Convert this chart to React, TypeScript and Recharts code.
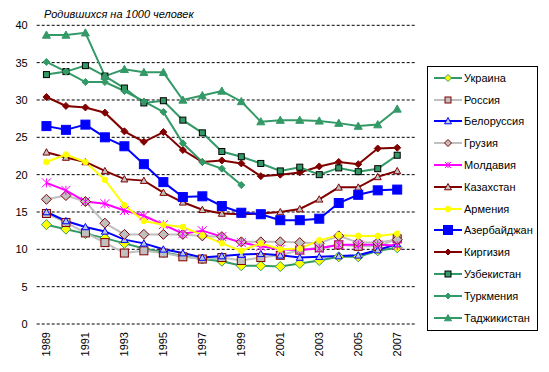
import React from 'react';
import { LineChart, Line, XAxis, YAxis, CartesianGrid, Legend } from 'recharts';

const years = [1989, 1990, 1991, 1992, 1993, 1994, 1995, 1996, 1997, 1998, 1999, 2000, 2001, 2002, 2003, 2004, 2005, 2006, 2007];
const xTicks = [1989, 1991, 1993, 1995, 1997, 1999, 2001, 2003, 2005, 2007];
const yTicks = [0, 5, 10, 15, 20, 25, 30, 35, 40];

const ukraine = [13.3, 12.7, 12.1, 11.5, 10.8, 10.1, 9.6, 9.1, 8.7, 8.4, 7.8, 7.8, 7.7, 8.1, 8.5, 9.0, 9.0, 9.8, 10.2];
const russia = [14.8, 13.6, 12.2, 10.9, 9.5, 9.8, 9.5, 9.0, 8.7, 8.9, 8.5, 8.9, 9.2, 9.9, 10.2, 10.6, 10.4, 10.4, 11.4];
const belarus = [15.0, 13.8, 13.0, 12.4, 11.3, 10.8, 10.0, 9.5, 8.9, 9.1, 9.3, 9.4, 9.2, 8.9, 9.0, 9.1, 9.2, 9.9, 10.7];
const georgia = [16.7, 17.2, 16.4, 13.5, 12.0, 12.0, 12.0, 12.0, 11.8, 11.7, 11.0, 11.0, 11.0, 10.9, 10.8, 11.8, 10.9, 10.9, 11.3];
const moldova = [18.9, 17.9, 16.4, 16.1, 15.2, 14.5, 13.3, 12.1, 12.5, 11.7, 10.9, 10.4, 10.0, 9.9, 10.1, 10.6, 10.6, 10.6, 10.5];
const kazakhstan = [23.0, 22.3, 21.7, 20.5, 19.4, 19.2, 17.6, 16.3, 15.3, 14.8, 14.7, 14.8, 15.0, 15.4, 16.7, 18.3, 18.3, 19.7, 20.5];
const armenia = [21.7, 22.7, 21.7, 19.3, 15.9, 13.8, 13.3, 13.0, 11.9, 10.8, 9.8, 10.8, 10.0, 10.1, 11.2, 11.9, 11.8, 11.8, 12.1];
const azerbaijan = [26.5, 26.0, 26.7, 25.0, 23.8, 21.4, 19.0, 17.0, 17.1, 15.8, 14.9, 14.7, 13.9, 13.9, 14.1, 16.2, 17.3, 17.9, 18.0];
const kyrgyzstan = [30.4, 29.2, 29.0, 28.3, 25.8, 24.4, 25.7, 23.3, 21.7, 21.9, 21.5, 19.8, 20.0, 20.3, 21.1, 21.7, 21.4, 23.5, 23.6];
const uzbekistan = [33.4, 33.8, 34.6, 33.2, 31.6, 29.6, 29.9, 27.3, 25.6, 23.1, 22.4, 21.5, 20.5, 21.0, 20.0, 20.9, 20.4, 20.8, 22.6];
const turkmenistan = [35.1, 33.8, 32.4, 32.4, 31.2, 29.8, 28.4, 24.2, 21.7, 20.8, 18.6, null, null, null, null, null, null, null, null];
const tajikistan = [38.7, 38.7, 39.0, 33.2, 34.1, 33.7, 33.7, 30.0, 30.6, 31.2, 29.8, 27.1, 27.3, 27.3, 27.2, 26.9, 26.5, 26.7, 28.8];

type Kind = 'diamond' | 'square' | 'triangle' | 'star' | 'circle';
interface S {
  key: string;
  name: string;
  values: (number | null)[];
  line: string;
  kind: Kind;
  fill: string;
  stroke: string;
  size: number;
  lsize: number;
}

const GREEN = '#339966';
const DRED = '#800000';
const SILVER = '#C0C0C0';
const BLUE = '#0000FF';

const series: S[] = [
  { key: 'ua', name: 'Украина', values: ukraine, line: GREEN, kind: 'diamond', fill: '#FFFF00', stroke: GREEN, size: 5, lsize: 3.5 },
  { key: 'ru', name: 'Россия', values: russia, line: SILVER, kind: 'square', fill: SILVER, stroke: DRED, size: 4, lsize: 3 },
  { key: 'by', name: 'Белоруссия', values: belarus, line: BLUE, kind: 'triangle', fill: '#B8C8E0', stroke: BLUE, size: 3.5, lsize: 3.5 },
  { key: 'ge', name: 'Грузия', values: georgia, line: SILVER, kind: 'diamond', fill: SILVER, stroke: DRED, size: 5, lsize: 3.5 },
  { key: 'md', name: 'Молдавия', values: moldova, line: '#FF00FF', kind: 'star', fill: '#FF00FF', stroke: '#FF00FF', size: 4.5, lsize: 3 },
  { key: 'kz', name: 'Казахстан', values: kazakhstan, line: DRED, kind: 'triangle', fill: SILVER, stroke: DRED, size: 3.5, lsize: 3.5 },
  { key: 'am', name: 'Армения', values: armenia, line: '#FFFF00', kind: 'circle', fill: '#FFFF00', stroke: '#FFFF00', size: 2.8, lsize: 2.8 },
  { key: 'az', name: 'Азербайджан', values: azerbaijan, line: BLUE, kind: 'square', fill: BLUE, stroke: BLUE, size: 4.5, lsize: 4.5 },
  { key: 'kg', name: 'Киргизия', values: kyrgyzstan, line: DRED, kind: 'diamond', fill: DRED, stroke: DRED, size: 3.5, lsize: 3 },
  { key: 'uz', name: 'Узбекистан', values: uzbekistan, line: GREEN, kind: 'square', fill: GREEN, stroke: '#000000', size: 3, lsize: 3 },
  { key: 'tm', name: 'Туркмения', values: turkmenistan, line: GREEN, kind: 'diamond', fill: GREEN, stroke: GREEN, size: 3.5, lsize: 3 },
  { key: 'tj', name: 'Таджикистан', values: tajikistan, line: GREEN, kind: 'triangle', fill: GREEN, stroke: GREEN, size: 4, lsize: 3.5 },
];

const data = years.map((y, i) => {
  const row: Record<string, number | null> = { year: y };
  series.forEach((s) => {
    row[s.key] = s.values[i];
  });
  return row;
});

const FONT = '"Liberation Sans", Arial, sans-serif';

function Marker({ kind, cx, cy, r, fill, stroke }: { kind: Kind; cx: number; cy: number; r: number; fill: string; stroke: string }) {
  switch (kind) {
    case 'diamond':
      return <polygon points={`${cx},${cy - r} ${cx + r},${cy} ${cx},${cy + r} ${cx - r},${cy}`} fill={fill} stroke={stroke} strokeWidth={1} />;
    case 'square':
      return <rect x={cx - r} y={cy - r} width={2 * r} height={2 * r} fill={fill} stroke={stroke} strokeWidth={1} />;
    case 'triangle':
      return <polygon points={`${cx},${cy - r} ${cx + r},${cy + r * 0.8} ${cx - r},${cy + r * 0.8}`} fill={fill} stroke={stroke} strokeWidth={1} />;
    case 'star':
      return (
        <g stroke={stroke} strokeWidth={1}>
          <line x1={cx - r} y1={cy - r} x2={cx + r} y2={cy + r} />
          <line x1={cx - r} y1={cy + r} x2={cx + r} y2={cy - r} />
          <line x1={cx} y1={cy - r} x2={cx} y2={cy + r} />
        </g>
      );
    case 'circle':
    default:
      return <circle cx={cx} cy={cy} r={r} fill={fill} stroke={stroke} strokeWidth={1} />;
  }
}

function makeDot(s: S) {
  return (p: any) => {
    const k = `${s.key}-${p.index}`;
    if (p.cx == null || p.cy == null || p.value == null) return <g key={k} />;
    return (
      <g key={k}>
        <Marker kind={s.kind} cx={p.cx} cy={p.cy} r={s.size} fill={s.fill} stroke={s.stroke} />
      </g>
    );
  };
}

const XTick = (props: any) => {
  const { x, y, payload } = props;
  return (
    <text
      x={0}
      y={0}
      transform={`translate(${x},${332}) rotate(-90)`}
      textAnchor="end"
      dy="0.35em"
      fontSize={11}
      fontFamily={FONT}
      fill="#000"
    >
      {payload.value}
    </text>
  );
};

const LegendBox = () => (
  <div
    style={{
      boxSizing: 'border-box',
      width: 111,
      height: 265,
      border: '1px solid #000',
      background: '#fff',
      fontFamily: FONT,
      fontSize: 11,
      color: '#000',
      paddingTop: 0,
    }}
  >
    {series.map((s) => (
      <div key={s.key} style={{ height: 21.8, display: 'flex', alignItems: 'center', whiteSpace: 'nowrap' }}>
        <svg width={36} height={14} style={{ display: 'block', flex: 'none' }}>
          <line x1={6} y1={7} x2={34} y2={7} stroke={s.line} strokeWidth={2} />
          <Marker kind={s.kind} cx={20} cy={7} r={s.lsize} fill={s.fill} stroke={s.stroke} />
        </svg>
        <span style={{ marginLeft: 0 }}>{s.name}</span>
      </div>
    ))}
  </div>
);

export default function App() {
  return (
    <div style={{ position: 'absolute', left: 0, top: 0, width: 549, height: 372, background: '#fff' }}>
      <div
        style={{
          position: 'absolute',
          left: 44,
          top: 8.6,
          fontFamily: FONT,
          fontSize: 11,
          lineHeight: '11px',
          fontStyle: 'italic',
          color: '#000',
          whiteSpace: 'nowrap',
          zIndex: 2,
        }}
      >
        Родившихся на 1000 человек
      </div>
      <LineChart
        width={549}
        height={372}
        data={data}
        margin={{ top: 25.3, right: 132.3, bottom: 8, left: 6.7 }}
      >
        <CartesianGrid vertical={false} stroke="#000" strokeDasharray="3 2" />
        <XAxis
          dataKey="year"
          type="number"
          domain={[1988.5, 2007.5]}
          ticks={xTicks}
          interval={0}
          axisLine={false}
          tickLine={false}
          height={40}
          tick={<XTick />}
          allowDecimals={false}
        />
        <YAxis
          type="number"
          domain={[0, 40]}
          ticks={yTicks}
          interval={0}
          width={30}
          axisLine={false}
          tickLine={false}
          tickMargin={3}
          tick={{ fontSize: 11, fontFamily: FONT, fill: '#000' }}
        />
        {series.map((s) => (
          <Line
            key={s.key}
            dataKey={s.key}
            name={s.name}
            type="linear"
            stroke={s.line}
            strokeWidth={2}
            dot={makeDot(s)}
            activeDot={false}
            isAnimationActive={false}
            connectNulls={false}
          />
        ))}
        <Legend
          layout="vertical"
          align="center"
          verticalAlign="middle"
          wrapperStyle={{ left: 427, top: 66, width: 111, height: 265 }}
          content={() => <LegendBox />}
        />
      </LineChart>
    </div>
  );
}
